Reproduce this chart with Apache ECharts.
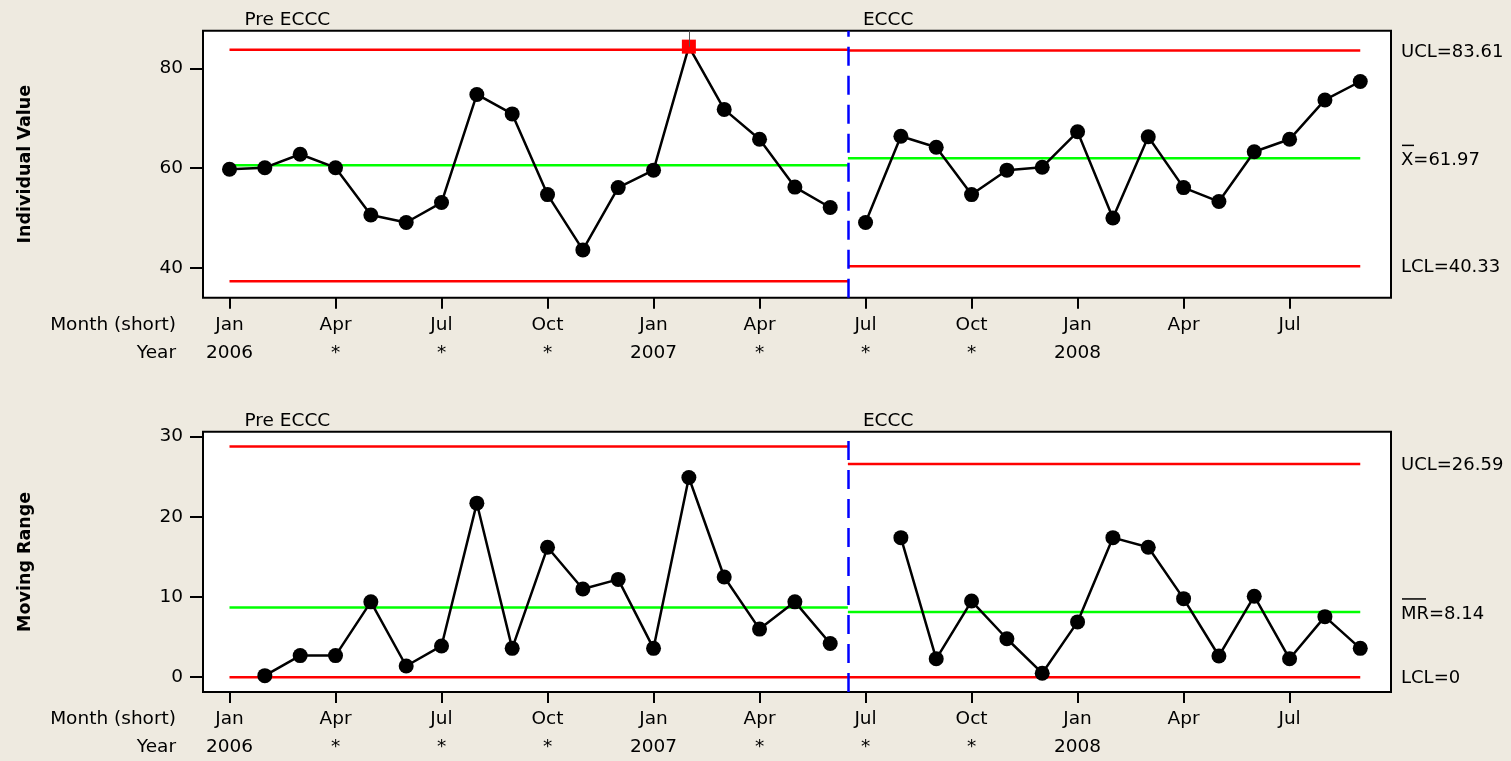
<!DOCTYPE html>
<html>
<head>
<meta charset="utf-8">
<title>I-MR Chart by Stage</title>
<script src="https://cdn.jsdelivr.net/npm/echarts@6/dist/echarts.min.js"></script>
<style>
  html, body { margin: 0; padding: 0; background: #EEEAE0; }
  #chart { width: 1511px; height: 761px; }
</style>
</head>
<body>
<div id="chart"></div>
<script>
// monthly observations, Jan 2006 .. Sep 2008
var individualValue = [59.8, 60.1, 62.8, 60.1, 50.6, 49.1, 53.1, 74.8, 70.9, 54.7, 43.6, 56.1,
  59.6, 84.4, 71.8, 65.8, 56.2, 52.1,
  49.1, 66.4, 64.2, 54.7, 59.6, 60.2, 67.3, 50.0, 66.3, 56.1, 53.3, 63.3, 65.8, 73.7, 77.4]
var movingRange = [null, 0.2, 2.7, 2.7, 9.4, 1.4, 3.9, 21.7, 3.6, 16.2, 11.0, 12.2,
  3.6, 24.9, 12.5, 6.0, 9.4, 4.2,
  null, 17.4, 2.3, 9.5, 4.8, 0.5, 6.9, 17.4, 16.2, 9.8, 2.65, 10.1, 2.3, 7.55, 3.6]

// stages
var stageNames = ['Pre ECCC', 'ECCC']
var stageFirst = [0, 18]
var stageLast = [17, 32]
var stageBreak = 17.5

// control limits per stage
var indUCL = [83.8, 83.61]
var indCL = [60.6, 61.97]
var indLCL = [37.3, 40.33]
var mrUCL = [28.75, 26.59]
var mrCL = [8.7, 8.14]
var mrLCL = [0, 0]

// x axis ticks (index of month)
var tickIndex = [0, 3, 6, 9, 12, 15, 18, 21, 24, 27, 30]
var tickMonth = ['Jan', 'Apr', 'Jul', 'Oct', 'Jan', 'Apr', 'Jul', 'Oct', 'Jan', 'Apr', 'Jul']
var tickYear = ['2006', '*', '*', '*', '2007', '*', '*', '*', '2008', '', '']

var indTicks = [40, 60, 80]
var mrTicks = [0, 10, 20, 30]

var FONT = 'DejaVu Sans'
var FS = 18.5
var chart = echarts.init(document.getElementById('chart'))

function xAxisFor(g) {
  return {
    type: 'value',
    gridIndex: g,
    min: -0.75,
    max: 32.87,
    axisLine: { show: false, onZero: false },
    splitLine: { show: false },
    axisTick: { show: true, customValues: tickIndex, length: 11, lineStyle: { color: '#000', width: 2 } },
    axisLabel: {
      customValues: tickIndex,
      margin: 13,
      color: '#000',
      fontFamily: FONT,
      fontSize: FS,
      lineHeight: 28,
      formatter: function(v) {
        var k = tickIndex.indexOf(Math.round(v))
        return tickMonth[k] + '\n' + (tickYear[k] || ' ')
      }
    }
  }
}

function yAxisFor(g, min, max, ticks) {
  return {
    type: 'value',
    gridIndex: g,
    min: min,
    max: max,
    axisLine: { show: false, onZero: false },
    splitLine: { show: false },
    axisTick: { show: true, customValues: ticks, length: 13, lineStyle: { color: '#000', width: 2 } },
    axisLabel: { customValues: ticks, margin: 20, color: '#000', fontFamily: FONT, fontSize: FS }
  }
}

// one data series per stage, limits drawn as short line series
function buildSeries(g, values, ucl, cl, lcl) {
  var out = []
  for (var s = 0; s < stageNames.length; s++) {
    var x0 = s === 0 ? stageFirst[s] : stageBreak
    var x1 = s === 0 ? stageBreak : stageLast[s]
    var limits = [[ucl[s], '#FF0000'], [cl[s], '#00FF00'], [lcl[s], '#FF0000']]
    limits.forEach(function(l) {
      out.push({
        type: 'line', xAxisIndex: g, yAxisIndex: g, z: 2, silent: true,
        showSymbol: false, symbol: 'none',
        lineStyle: { color: l[1], width: 2.5 },
        data: [[x0, l[0]], [x1, l[0]]]
      })
    })
    var pts = []
    var flags = []
    for (var i = stageFirst[s]; i <= stageLast[s]; i++) {
      if (values[i] === null) continue
      if (values[i] > ucl[s]) {
        pts.push({ value: [i, values[i]], symbol: 'rect', symbolSize: 14, itemStyle: { color: '#FF0000' } })
        flags.push([{ coord: [i, values[i]] }, { coord: [i, g === 0 ? 87.6 : 30.61] }])
      } else {
        pts.push([i, values[i]])
      }
    }
    out.push({
      type: 'line', xAxisIndex: g, yAxisIndex: g, z: 3,
      symbol: 'circle', symbolSize: 15, showAllSymbol: true,
      lineStyle: { color: '#000', width: 2.5 },
      itemStyle: { color: '#000' },
      data: pts,
      markLine: {
        silent: true, symbol: 'none', label: { show: false },
        lineStyle: { color: '#555', width: 1, type: 'solid' },
        data: flags
      }
    })
  }
  // stage divider
  out.push({
    type: 'line', xAxisIndex: g, yAxisIndex: g, z: 4, data: [],
    markLine: {
      silent: true, symbol: 'none', label: { show: false },
      lineStyle: { color: '#0000FF', width: 2.5, type: [19, 10] },
      data: [{ xAxis: stageBreak }]
    }
  })
  return out
}

chart.setOption({
  animation: false,
  backgroundColor: '#EEEAE0',
  grid: [
    { left: 203, top: 30.7, width: 1188, height: 267, show: true, backgroundColor: '#fff', borderColor: '#000', borderWidth: 2 },
    { left: 203, top: 431.7, width: 1188, height: 265, show: true, backgroundColor: '#fff', borderColor: '#000', borderWidth: 2 }
  ],
  xAxis: [xAxisFor(0), xAxisFor(1)],
  yAxis: [yAxisFor(0, 34, 87.6, indTicks), yAxisFor(1, -1.84, 30.61, mrTicks)],
  series: buildSeries(0, individualValue, indUCL, indCL, indLCL)
    .concat(buildSeries(1, movingRange, mrUCL, mrCL, mrLCL))
})

// text annotations placed from the axes
function txt(x, y, text, opt) {
  opt = opt || {}
  return {
    type: 'text', x: x, y: y, rotation: opt.rotation || 0, silent: true,
    style: {
      text: text, fill: '#000', font: (opt.bold ? 'bold ' : '') + (opt.size || FS) + 'px "' + FONT + '"',
      align: opt.align || 'left', verticalAlign: 'middle'
    }
  }
}
function bar(x1, x2, y) {
  return { type: 'line', silent: true, shape: { x1: x1, y1: y, x2: x2, y2: y }, style: { stroke: '#000', lineWidth: 1.5 } }
}

var gfx = []
var charts = [
  { g: 0, title: 'Individual Value', ucl: indUCL[1], cl: indCL[1], lcl: indLCL[1], clName: 'X', clWidth: 12 },
  { g: 1, title: 'Moving Range', ucl: mrUCL[1], cl: mrCL[1], lcl: mrLCL[1], clName: 'MR', clWidth: 24 }
]
charts.forEach(function(c) {
  var yTop = chart.convertToPixel({ yAxisIndex: c.g }, c.g === 0 ? 87.6 : 30.61)
  var yBot = chart.convertToPixel({ yAxisIndex: c.g }, c.g === 0 ? 34 : -1.84)
  var xStart = chart.convertToPixel({ xAxisIndex: c.g }, stageFirst[0])
  var xBreak = chart.convertToPixel({ xAxisIndex: c.g }, stageBreak)
  gfx.push(txt(25, (yTop + yBot) / 2, c.title, { bold: true, align: 'center', rotation: Math.PI / 2, size: 17.5 }))
  gfx.push(txt(xStart + 15, yTop - 11, stageNames[0]))
  gfx.push(txt(xBreak + 15, yTop - 11, stageNames[1]))
  gfx.push(txt(176, yBot + 27.5, 'Month (short)', { align: 'right' }))
  gfx.push(txt(176, yBot + 55.5, 'Year', { align: 'right' }))
  var yU = chart.convertToPixel({ yAxisIndex: c.g }, c.ucl) + 1.5
  var yC = chart.convertToPixel({ yAxisIndex: c.g }, c.cl) + 2
  var yL = chart.convertToPixel({ yAxisIndex: c.g }, c.lcl) + 1.5
  gfx.push(txt(1401, yU, 'UCL=' + c.ucl, { size: 18 }))
  gfx.push(txt(1401, yC, c.clName + '=' + c.cl, { size: 18 }))
  gfx.push(bar(1402, 1402 + c.clWidth, yC - 15))
  gfx.push(txt(1401, yL, 'LCL=' + c.lcl, { size: 18 }))
})
chart.setOption({ graphic: gfx })
</script>
</body>
</html>
